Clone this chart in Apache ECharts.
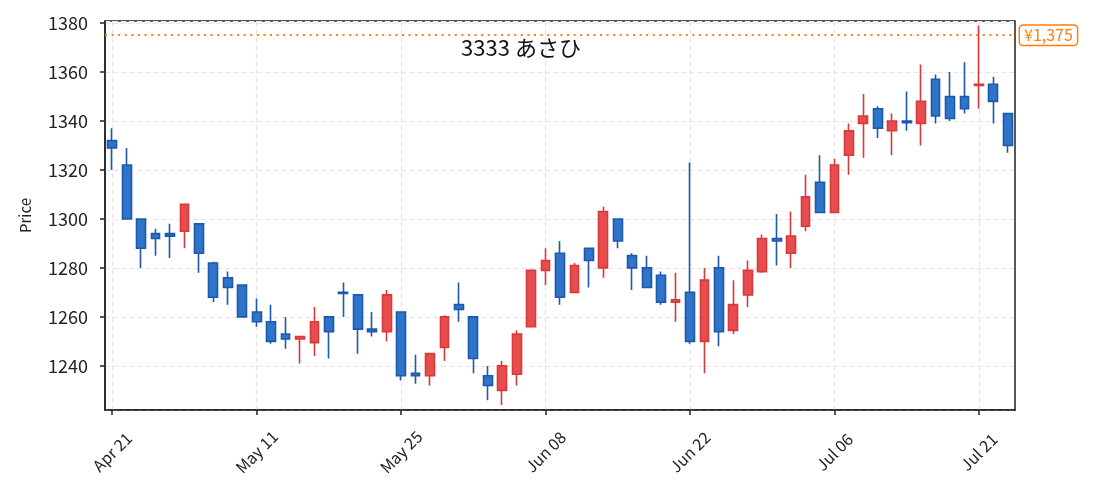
<!DOCTYPE html>
<html>
<head>
<meta charset="utf-8">
<script src="https://cdn.jsdelivr.net/npm/echarts@6/dist/echarts.min.js"></script>
<style>
html,body{margin:0;padding:0;background:#fff;}
#chart{width:1095px;height:499px;}
</style>
</head>
<body>
<div id="chart"></div>
<script>
const dates = ['Apr 21','Apr 22','Apr 23','Apr 24','Apr 25','Apr 28','Apr 30','May 01','May 02','May 07',
  'May 11','May 12','May 13','May 14','May 15','May 16','May 19','May 20','May 21','May 22',
  'May 25','May 26','May 27','May 28','May 29','May 30','Jun 02','Jun 03','Jun 04','Jun 05',
  'Jun 08','Jun 09','Jun 10','Jun 11','Jun 12','Jun 13','Jun 16','Jun 17','Jun 18','Jun 19',
  'Jun 22','Jun 23','Jun 24','Jun 25','Jun 26','Jun 27','Jun 30','Jul 01','Jul 02','Jul 03',
  'Jul 06','Jul 07','Jul 08','Jul 09','Jul 10','Jul 11','Jul 14','Jul 15','Jul 16','Jul 17',
  'Jul 21','Jul 22','Jul 23'];

const opens  = [1332,1322,1300,1294,1294,1295,1298,1282,1276,1273,
  1262,1258,1253,1251,1249.5,1260,1270,1269,1255,1254,
  1262,1237,1236,1247.5,1265,1260,1236,1230,1236.6,1256,
  1279,1286,1270,1288,1280,1300,1285,1280,1277,1266,
  1270,1250,1280,1254.5,1269,1278.5,1292,1286,1297,1315,
  1302.6,1326,1339,1345,1336,1340,1339,1357,1350,1350,
  1354.5,1355,1343];
const closes = [1329,1300,1288,1292,1293,1306,1286,1268,1272,1260,
  1258,1250,1251,1252,1258,1254,1269.6,1255,1254,1269,
  1236,1236,1245,1260,1263,1243,1232,1240,1253,1279,
  1283,1268,1281,1283,1303,1291,1280,1272,1266,1267,
  1250,1275,1254,1265,1279,1292,1291,1293,1309,1302.6,
  1322,1336,1342,1337,1340,1339.3,1348,1342,1341,1345,
  1355,1348,1330];
const lows   = [1320,1300,1280,1285,1284,1288,1278,1266,1265,1260,
  1256,1249,1247,1241,1244,1243,1260,1245,1252,1250,
  1234,1232.7,1232,1242,1258,1237,1226,1224,1232,1256,
  1273,1265,1269.7,1272,1276,1288,1271,1271.7,1265,1258,
  1249,1237,1248,1253,1264,1278,1281,1280,1295,1302.6,
  1302.6,1318,1325,1333,1326,1336,1330,1339,1340,1343,
  1345,1339,1327];
const highs  = [1337,1329,1300,1296,1298,1306,1298,1282.5,1278.5,1273,
  1267.5,1265,1260,1252,1264,1260,1274,1269,1262,1271,
  1262,1244.6,1245.4,1260.7,1274,1260,1240,1242,1254.6,1279,
  1288,1291,1282,1288,1305,1300,1286,1285,1278.5,1278,
  1323,1280,1285,1275,1283,1293.6,1302,1303,1318,1326,
  1324.6,1339,1351,1346,1343,1352,1363,1359,1360,1364,
  1379,1358,1343];

const yTicks = [1240,1260,1280,1300,1320,1340,1360,1380];
const refPrice = 1375;
const refLabel = '¥1,375';
const titleText = '3333 あさひ';

const ohlc = dates.map((d, i) => [opens[i], closes[i], lows[i], highs[i]]);

const FONT = '"Noto Sans CJK JP", "Noto Sans", sans-serif';
const chart = echarts.init(document.getElementById('chart'), null, {renderer: 'canvas'});
chart.setOption({
  animation: false,
  backgroundColor: '#ffffff',
  textStyle: {fontFamily: FONT},
  title: {
    text: titleText,
    left: 516,
    top: 32,
    textAlign: 'center',
    textStyle: {fontFamily: FONT, fontSize: 22, fontWeight: 'normal', color: '#111'}
  },
  grid: {
    left: 105, right: 80, top: 21, bottom: 89,
    show: true, borderColor: '#222', borderWidth: 1.5, backgroundColor: 'transparent'
  },
  xAxis: {
    type: 'category',
    data: dates,
    boundaryGap: true,
    axisLine: {show: true, lineStyle: {color: '#222', width: 1.5}},
    axisTick: {show: true, interval: 9, alignWithLabel: true, length: 5, lineStyle: {color: '#222', width: 1.5}},
    axisLabel: {
      interval: 9, rotate: 45, align: 'center', verticalAlign: 'middle', margin: 42,
      fontSize: 16, color: '#222', fontFamily: FONT
    },
    splitLine: {show: true, interval: 9, alignWithLabel: true, lineStyle: {color: '#e6e6e6', type: [5, 3], width: 1.2}}
  },
  yAxis: {
    type: 'value',
    min: 1222,
    max: 1380.8,
    minInterval: 20,
    maxInterval: 20,
    splitNumber: 8,
    scale: true,
    name: 'Price',
    nameLocation: 'middle',
    nameGap: 72,
    nameTextStyle: {fontSize: 15, color: '#222', fontFamily: FONT},
    axisLine: {show: true, lineStyle: {color: '#222', width: 1.5}},
    axisTick: {show: true, length: 5, lineStyle: {color: '#222', width: 1.5}},
    axisLabel: {
      showMinLabel: false, showMaxLabel: false, margin: 17,
      fontSize: 18, color: '#222', fontFamily: FONT,
      formatter: v => (yTicks.indexOf(Math.round(v)) >= 0 && Math.abs(v - Math.round(v)) < 1e-6) ? String(Math.round(v)) : ''
    },
    splitLine: {show: true, lineStyle: {color: '#e6e6e6', type: [5, 3], width: 1.2}}
  },
  series: [{
    type: 'candlestick',
    data: ohlc,
    barWidth: '64%',
    itemStyle: {
      color: '#e84c4c',
      color0: '#2e74c9',
      borderColor: '#d63a3a',
      borderColor0: '#1d58ab',
      borderWidth: 1.6
    },
    markLine: {
      silent: true,
      symbol: ['none', 'none'],
      lineStyle: {color: '#ff7f0e', type: [2, 4.6], width: 2, cap: 'butt'},
      label: {
        show: true,
        position: 'end',
        distance: 5,
        formatter: refLabel,
        color: '#ff7f0e',
        fontSize: 16,
        fontFamily: FONT,
        backgroundColor: '#ffffff',
        borderColor: '#ff7f0e',
        borderWidth: 1.5,
        borderRadius: 3,
        padding: [2, 4, 1, 4]
      },
      data: [{yAxis: refPrice}]
    }
  }]
});
</script>
</body>
</html>
